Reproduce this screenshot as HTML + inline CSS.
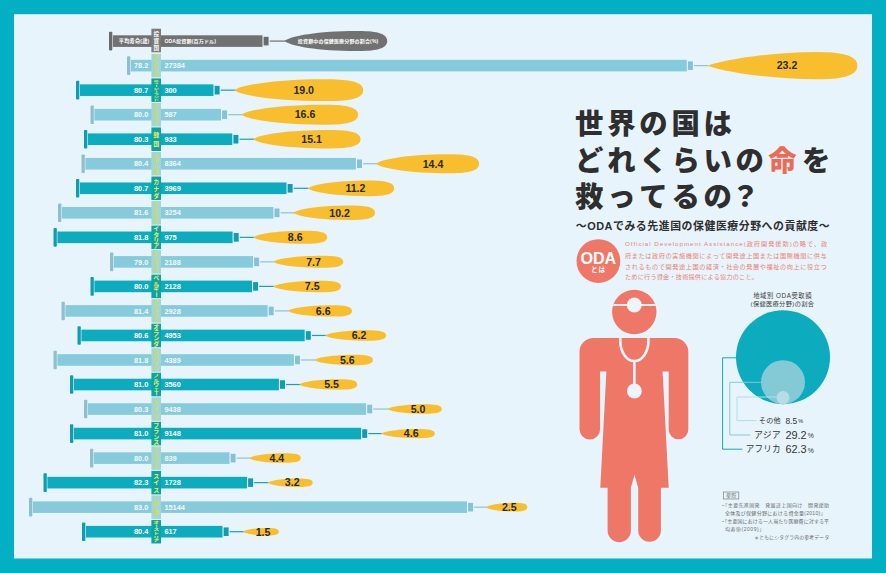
<!DOCTYPE html><html><head><meta charset="utf-8"><title>ODA</title><style>html,body{margin:0;padding:0;background:#03b0c3}svg{display:block}</style></head><body><svg width="886" height="573" viewBox="0 0 886 573"><style>text{font-family:"Liberation Sans","Noto Sans CJK JP",sans-serif}.n{font-size:7.4px;font-weight:bold;fill:#fff}.p{font-size:10.6px;font-weight:bold;fill:#2a2a2a}.c{font-size:5.9px;font-weight:bold;text-anchor:middle}.h{font-size:5.6px;font-weight:bold;text-anchor:middle}.t{font-size:28.4px;font-weight:900}.d{font-size:6.2px}.r{font-size:5px}</style><rect width="886" height="573" fill="#03b0c3"/><rect x="14" y="14.2" width="858" height="544.3" fill="#e7f4fc"/><rect x="109" y="31.8" width="3.3" height="18.6" rx="0.8" fill="#6a6a6a"/><rect x="112.9" y="35.3" width="149.6" height="11.6" fill="#717171"/><rect x="263.6" y="36.8" width="5" height="8.6" fill="#6a6a6a"/><rect x="269.7" y="40.5" width="15.7" height="1.2" fill="#6f6f6f"/><path d="M284.6 41.1C289.73 36.1 318.46 31.1 356.42 31.1C373.86 31.1 387.2 32.6 387.2 41.1C387.2 49.6 373.86 51.1 356.42 51.1C318.46 51.1 289.73 46.1 284.6 41.1Z" fill="#717171"/><rect x="151.4" y="28.7" width="9.6" height="23.6" fill="#7b7b7b"/><text x="149.3" y="43.01" text-anchor="end" font-size="5.16" font-weight="bold" fill="#fff" textLength="30.5" lengthAdjust="spacing">平均寿命(歳)</text><text x="164.4" y="42.99" font-size="5.1" font-weight="bold" fill="#fff" textLength="51.6" lengthAdjust="spacing">ODA投資額(百万ドル)</text><text x="338" y="42.95" text-anchor="middle" font-size="5" font-weight="bold" fill="#fff" textLength="80.3" lengthAdjust="spacing">投資額中の保健医療分野の割合(%)</text><g fill="#fff"><text class="h" x="156.2" y="36.38">投</text><text class="h" x="156.2" y="42.98">資</text><text class="h" x="156.2" y="49.58">国</text></g><rect x="127" y="56.33" width="3.3" height="18.6" rx="0.8" fill="#8dbfce"/><rect x="130.9" y="59.83" width="555.9" height="11.6" fill="#86cbdb"/><rect x="687.9" y="61.33" width="5" height="8.6" fill="#85c3d4"/><rect x="694" y="65.03" width="14.5" height="1.2" fill="#8fc3d2"/><path d="M707.7 65.63C722.67 59.9 770.57 51.98 815.48 51.98C839.44 51.98 857.4 54.71 857.4 65.63C857.4 76.55 839.44 79.28 815.48 79.28C770.57 79.28 722.67 71.36 707.7 65.63Z" fill="#f9be2d"/><rect x="151.4" y="53.88" width="9.6" height="23.5" fill="#a6d5d0"/><g fill="#cde04c"><text class="c" transform="translate(156.2 57.3) scale(1 0.959)" y="2.24">ア</text><text class="c" transform="translate(156.2 62.86) scale(1 0.959)" y="2.24">メ</text><text class="c" transform="translate(156.2 68.41) scale(1 0.959)" y="2.24">リ</text><text class="c" transform="translate(156.2 73.95) scale(1 0.959)" y="2.24">カ</text></g><text x="148.3" y="68.28" text-anchor="end" class="n" fill-opacity="0.92">78.2</text><text x="164.4" y="68.28" class="n" fill-opacity="0.92">27384</text><text x="787" y="69.43" text-anchor="middle" class="p">23.2</text><rect x="76" y="80.86" width="3.3" height="18.6" rx="0.8" fill="#109db1"/><rect x="79.9" y="84.36" width="133.6" height="11.6" fill="#0cabbe"/><rect x="214.6" y="85.86" width="5" height="8.6" fill="#109db1"/><rect x="220.7" y="89.56" width="14.6" height="1.2" fill="#1a9fb3"/><path d="M234.5 90.16C240.94 84.71 276.97 79.26 324.59 79.26C346.47 79.26 363.2 80.89 363.2 90.16C363.2 99.42 346.47 101.06 324.59 101.06C276.97 101.06 240.94 95.61 234.5 90.16Z" fill="#f9be2d"/><rect x="151.4" y="78.41" width="9.6" height="23.5" fill="#08a4a6"/><g fill="#f6ec58"><text class="c" transform="translate(156.2 80.45) scale(1 0.481)" y="2.24">ニ</text><text class="c" transform="translate(156.2 83.22) scale(1 0.481)" y="2.24">ュ</text><text class="c" transform="translate(156.2 86) scale(1 0.481) rotate(90)" y="2.24">ー</text><text class="c" transform="translate(156.2 88.77) scale(1 0.481)" y="2.24">ジ</text><text class="c" transform="translate(156.2 91.55) scale(1 0.481) rotate(90)" y="2.24">ー</text><text class="c" transform="translate(156.2 94.32) scale(1 0.481)" y="2.24">ラ</text><text class="c" transform="translate(156.2 97.1) scale(1 0.481)" y="2.24">ン</text><text class="c" transform="translate(156.2 99.87) scale(1 0.481)" y="2.24">ド</text></g><text x="148.3" y="92.81" text-anchor="end" class="n">80.7</text><text x="164.4" y="92.81" class="n">300</text><text x="303.7" y="93.96" text-anchor="middle" class="p">19.0</text><rect x="90.5" y="105.39" width="3.3" height="18.6" rx="0.8" fill="#8dbfce"/><rect x="94.4" y="108.89" width="126.6" height="11.6" fill="#86cbdb"/><rect x="222.1" y="110.39" width="5" height="8.6" fill="#85c3d4"/><rect x="228.2" y="114.09" width="14.3" height="1.2" fill="#8fc3d2"/><path d="M241.7 114.69C247.52 109.69 280.11 104.69 323.18 104.69C342.97 104.69 358.1 106.19 358.1 114.69C358.1 123.19 342.97 124.69 323.18 124.69C280.11 124.69 247.52 119.69 241.7 114.69Z" fill="#f9be2d"/><rect x="151.4" y="102.94" width="9.6" height="23.5" fill="#a6d5d0"/><g fill="#cde04c"><text class="c" transform="translate(156.2 105.44) scale(1 0.641)" y="2.24">ア</text><text class="c" transform="translate(156.2 109.14) scale(1 0.641)" y="2.24">イ</text><text class="c" transform="translate(156.2 112.84) scale(1 0.641)" y="2.24">ル</text><text class="c" transform="translate(156.2 116.54) scale(1 0.641)" y="2.24">ラ</text><text class="c" transform="translate(156.2 120.24) scale(1 0.641)" y="2.24">ン</text><text class="c" transform="translate(156.2 123.94) scale(1 0.641)" y="2.24">ド</text></g><text x="148.3" y="117.34" text-anchor="end" class="n" fill-opacity="0.92">80.0</text><text x="164.4" y="117.34" class="n" fill-opacity="0.92">587</text><text x="305" y="118.49" text-anchor="middle" class="p">16.6</text><rect x="84" y="129.92" width="3.3" height="18.6" rx="0.8" fill="#109db1"/><rect x="87.9" y="133.42" width="144.4" height="11.6" fill="#0cabbe"/><rect x="233.4" y="134.92" width="5" height="8.6" fill="#109db1"/><rect x="239.5" y="138.62" width="14.7" height="1.2" fill="#1a9fb3"/><path d="M253.4 139.22C258.75 134.62 288.74 130.02 328.37 130.02C346.58 130.02 360.5 131.4 360.5 139.22C360.5 147.04 346.58 148.42 328.37 148.42C288.74 148.42 258.75 143.82 253.4 139.22Z" fill="#f9be2d"/><rect x="151.4" y="127.47" width="9.6" height="23.5" fill="#08a4a6"/><g fill="#f6ec58"><text class="c" transform="translate(156.2 134.57)" y="2.24">韓</text><text class="c" transform="translate(156.2 143.87)" y="2.24">国</text></g><text x="148.3" y="141.87" text-anchor="end" class="n">80.3</text><text x="164.4" y="141.87" class="n">933</text><text x="311.6" y="143.02" text-anchor="middle" class="p">15.1</text><rect x="81.5" y="154.45" width="3.3" height="18.6" rx="0.8" fill="#8dbfce"/><rect x="85.4" y="157.95" width="270.5" height="11.6" fill="#86cbdb"/><rect x="357" y="159.45" width="5" height="8.6" fill="#85c3d4"/><rect x="363.1" y="163.15" width="13.8" height="1.2" fill="#8fc3d2"/><path d="M376.1 163.75C381.25 159 410.09 154.25 448.2 154.25C465.71 154.25 479.1 155.68 479.1 163.75C479.1 171.82 465.71 173.25 448.2 173.25C410.09 173.25 381.25 168.5 376.1 163.75Z" fill="#f9be2d"/><rect x="151.4" y="152" width="9.6" height="23.5" fill="#a6d5d0"/><g fill="#cde04c"><text class="c" transform="translate(156.2 155.43) scale(1 0.959)" y="2.24">イ</text><text class="c" transform="translate(156.2 160.97) scale(1 0.959)" y="2.24">ギ</text><text class="c" transform="translate(156.2 166.53) scale(1 0.959)" y="2.24">リ</text><text class="c" transform="translate(156.2 172.07) scale(1 0.959)" y="2.24">ス</text></g><text x="148.3" y="166.4" text-anchor="end" class="n" fill-opacity="0.92">80.4</text><text x="164.4" y="166.4" class="n" fill-opacity="0.92">8364</text><text x="433" y="167.55" text-anchor="middle" class="p">14.4</text><rect x="76" y="178.98" width="3.3" height="18.6" rx="0.8" fill="#109db1"/><rect x="79.9" y="182.48" width="206.6" height="11.6" fill="#0cabbe"/><rect x="287.6" y="183.98" width="5" height="8.6" fill="#109db1"/><rect x="293.7" y="187.68" width="14.9" height="1.2" fill="#1a9fb3"/><path d="M307.8 188.28C312.12 184.33 336.31 180.38 368.28 180.38C382.97 180.38 394.2 181.56 394.2 188.28C394.2 195 382.97 196.18 368.28 196.18C336.31 196.18 312.12 192.23 307.8 188.28Z" fill="#f9be2d"/><rect x="151.4" y="176.53" width="9.6" height="23.5" fill="#08a4a6"/><g fill="#f6ec58"><text class="c" transform="translate(156.2 181.28)" y="2.24">カ</text><text class="c" transform="translate(156.2 188.28)" y="2.24">ナ</text><text class="c" transform="translate(156.2 195.28)" y="2.24">ダ</text></g><text x="148.3" y="190.93" text-anchor="end" class="n">80.7</text><text x="164.4" y="190.93" class="n">3969</text><text x="355.4" y="192.08" text-anchor="middle" class="p">11.2</text><rect x="58" y="203.51" width="3.3" height="18.6" rx="0.8" fill="#8dbfce"/><rect x="61.9" y="207.01" width="211.5" height="11.6" fill="#86cbdb"/><rect x="274.5" y="208.51" width="5" height="8.6" fill="#85c3d4"/><rect x="280.6" y="212.21" width="13.4" height="1.2" fill="#8fc3d2"/><path d="M293.2 212.81C297.29 209.19 320.19 205.56 350.46 205.56C364.37 205.56 375 206.65 375 212.81C375 218.97 364.37 220.06 350.46 220.06C320.19 220.06 297.29 216.44 293.2 212.81Z" fill="#f9be2d"/><rect x="151.4" y="201.06" width="9.6" height="23.5" fill="#a6d5d0"/><g fill="#cde04c"><text class="c" transform="translate(156.2 203.3) scale(1 0.549)" y="2.24">オ</text><text class="c" transform="translate(156.2 206.47) scale(1 0.549) rotate(90)" y="2.24">ー</text><text class="c" transform="translate(156.2 209.64) scale(1 0.549)" y="2.24">ス</text><text class="c" transform="translate(156.2 212.81) scale(1 0.549)" y="2.24">ト</text><text class="c" transform="translate(156.2 215.98) scale(1 0.549)" y="2.24">ラ</text><text class="c" transform="translate(156.2 219.15) scale(1 0.549)" y="2.24">リ</text><text class="c" transform="translate(156.2 222.32) scale(1 0.549)" y="2.24">ア</text></g><text x="148.3" y="215.46" text-anchor="end" class="n" fill-opacity="0.92">81.6</text><text x="164.4" y="215.46" class="n" fill-opacity="0.92">3254</text><text x="339.6" y="216.61" text-anchor="middle" class="p">10.2</text><rect x="53.5" y="228.04" width="3.3" height="18.6" rx="0.8" fill="#109db1"/><rect x="57.4" y="231.54" width="175.2" height="11.6" fill="#0cabbe"/><rect x="233.7" y="233.04" width="5" height="8.6" fill="#109db1"/><rect x="239.8" y="236.74" width="14.4" height="1.2" fill="#1a9fb3"/><path d="M253.4 237.34C257.1 234.09 277.79 230.84 305.13 230.84C317.69 230.84 327.3 231.81 327.3 237.34C327.3 242.87 317.69 243.84 305.13 243.84C277.79 243.84 257.1 240.59 253.4 237.34Z" fill="#f9be2d"/><rect x="151.4" y="225.59" width="9.6" height="23.5" fill="#08a4a6"/><g fill="#f6ec58"><text class="c" transform="translate(156.2 229.02) scale(1 0.959)" y="2.24">イ</text><text class="c" transform="translate(156.2 234.56) scale(1 0.959)" y="2.24">タ</text><text class="c" transform="translate(156.2 240.12) scale(1 0.959)" y="2.24">リ</text><text class="c" transform="translate(156.2 245.66) scale(1 0.959)" y="2.24">ア</text></g><text x="148.3" y="239.99" text-anchor="end" class="n">81.8</text><text x="164.4" y="239.99" class="n">975</text><text x="295.2" y="241.14" text-anchor="middle" class="p">8.6</text><rect x="110" y="252.57" width="3.3" height="18.6" rx="0.8" fill="#8dbfce"/><rect x="113.9" y="256.07" width="139.1" height="11.6" fill="#86cbdb"/><rect x="254.1" y="257.57" width="5" height="8.6" fill="#85c3d4"/><rect x="260.2" y="261.27" width="13.7" height="1.2" fill="#8fc3d2"/><path d="M273.1 261.87C276.61 258.87 296.27 255.87 322.24 255.87C334.17 255.87 343.3 256.77 343.3 261.87C343.3 266.97 334.17 267.87 322.24 267.87C296.27 267.87 276.61 264.87 273.1 261.87Z" fill="#f9be2d"/><rect x="151.4" y="250.12" width="9.6" height="23.5" fill="#a6d5d0"/><g fill="#cde04c"><text class="c" transform="translate(156.2 252.99) scale(1 0.769)" y="2.24">デ</text><text class="c" transform="translate(156.2 257.43) scale(1 0.769)" y="2.24">ン</text><text class="c" transform="translate(156.2 261.87) scale(1 0.769)" y="2.24">マ</text><text class="c" transform="translate(156.2 266.31) scale(1 0.769) rotate(90)" y="2.24">ー</text><text class="c" transform="translate(156.2 270.75) scale(1 0.769)" y="2.24">ク</text></g><text x="148.3" y="264.52" text-anchor="end" class="n" fill-opacity="0.92">79.0</text><text x="164.4" y="264.52" class="n" fill-opacity="0.92">2188</text><text x="313.5" y="265.67" text-anchor="middle" class="p">7.7</text><rect x="90.5" y="277.1" width="3.3" height="18.6" rx="0.8" fill="#109db1"/><rect x="94.4" y="280.6" width="157.6" height="11.6" fill="#0cabbe"/><rect x="253.1" y="282.1" width="5" height="8.6" fill="#109db1"/><rect x="259.2" y="285.8" width="14.7" height="1.2" fill="#1a9fb3"/><path d="M273.1 286.4C276.5 283.53 295.51 280.65 320.63 280.65C332.17 280.65 341 281.51 341 286.4C341 291.29 332.17 292.15 320.63 292.15C295.51 292.15 276.5 289.28 273.1 286.4Z" fill="#f9be2d"/><rect x="151.4" y="274.65" width="9.6" height="23.5" fill="#08a4a6"/><g fill="#f6ec58"><text class="c" transform="translate(156.2 278.08) scale(1 0.959)" y="2.24">ベ</text><text class="c" transform="translate(156.2 283.62) scale(1 0.959)" y="2.24">ル</text><text class="c" transform="translate(156.2 289.18) scale(1 0.959)" y="2.24">ギ</text><text class="c" transform="translate(156.2 294.73) scale(1 0.959) rotate(90)" y="2.24">ー</text></g><text x="148.3" y="289.05" text-anchor="end" class="n">80.0</text><text x="164.4" y="289.05" class="n">2128</text><text x="312.2" y="290.2" text-anchor="middle" class="p">7.5</text><rect x="61.5" y="301.63" width="3.3" height="18.6" rx="0.8" fill="#8dbfce"/><rect x="65.4" y="305.13" width="202.2" height="11.6" fill="#86cbdb"/><rect x="268.7" y="306.63" width="5" height="8.6" fill="#85c3d4"/><rect x="274.8" y="310.33" width="14.1" height="1.2" fill="#8fc3d2"/><path d="M288.1 310.93C291.3 308.11 309.19 305.28 332.83 305.28C343.69 305.28 352 306.13 352 310.93C352 315.73 343.69 316.58 332.83 316.58C309.19 316.58 291.3 313.76 288.1 310.93Z" fill="#f9be2d"/><rect x="151.4" y="299.18" width="9.6" height="23.5" fill="#a6d5d0"/><g fill="#cde04c"><text class="c" transform="translate(156.2 301.68) scale(1 0.641)" y="2.24">ス</text><text class="c" transform="translate(156.2 305.38) scale(1 0.641)" y="2.24">ウ</text><text class="c" transform="translate(156.2 309.08) scale(1 0.641)" y="2.24">ェ</text><text class="c" transform="translate(156.2 312.78) scale(1 0.641) rotate(90)" y="2.24">ー</text><text class="c" transform="translate(156.2 316.48) scale(1 0.641)" y="2.24">デ</text><text class="c" transform="translate(156.2 320.18) scale(1 0.641)" y="2.24">ン</text></g><text x="148.3" y="313.58" text-anchor="end" class="n" fill-opacity="0.92">81.4</text><text x="164.4" y="313.58" class="n" fill-opacity="0.92">2928</text><text x="323.2" y="314.73" text-anchor="middle" class="p">6.6</text><rect x="77.5" y="326.16" width="3.3" height="18.6" rx="0.8" fill="#109db1"/><rect x="81.4" y="329.66" width="223.3" height="11.6" fill="#0cabbe"/><rect x="305.8" y="331.16" width="5" height="8.6" fill="#109db1"/><rect x="311.9" y="334.86" width="14.1" height="1.2" fill="#1a9fb3"/><path d="M325.2 335.46C328.25 332.84 345.3 330.21 367.83 330.21C378.18 330.21 386.1 331 386.1 335.46C386.1 339.92 378.18 340.71 367.83 340.71C345.3 340.71 328.25 338.09 325.2 335.46Z" fill="#f9be2d"/><rect x="151.4" y="323.71" width="9.6" height="23.5" fill="#08a4a6"/><g fill="#f6ec58"><text class="c" transform="translate(156.2 327.13) scale(1 0.959)" y="2.24">オ</text><text class="c" transform="translate(156.2 332.69) scale(1 0.959)" y="2.24">ラ</text><text class="c" transform="translate(156.2 338.24) scale(1 0.959)" y="2.24">ン</text><text class="c" transform="translate(156.2 343.79) scale(1 0.959)" y="2.24">ダ</text></g><text x="148.3" y="338.11" text-anchor="end" class="n">80.6</text><text x="164.4" y="338.11" class="n">4953</text><text x="359" y="339.26" text-anchor="middle" class="p">6.2</text><rect x="53.5" y="350.69" width="3.3" height="18.6" rx="0.8" fill="#8dbfce"/><rect x="57.4" y="354.19" width="236.5" height="11.6" fill="#86cbdb"/><rect x="295" y="355.69" width="5" height="8.6" fill="#85c3d4"/><rect x="301.1" y="359.39" width="14.2" height="1.2" fill="#8fc3d2"/><path d="M314.5 359.99C317.42 357.37 333.77 354.74 355.38 354.74C365.31 354.74 372.9 355.53 372.9 359.99C372.9 364.45 365.31 365.24 355.38 365.24C333.77 365.24 317.42 362.62 314.5 359.99Z" fill="#f9be2d"/><rect x="151.4" y="348.24" width="9.6" height="23.5" fill="#a6d5d0"/><g fill="#cde04c"><text class="c" transform="translate(156.2 351.66) scale(1 0.959)" y="2.24">ス</text><text class="c" transform="translate(156.2 357.22) scale(1 0.959)" y="2.24">ペ</text><text class="c" transform="translate(156.2 362.76) scale(1 0.959)" y="2.24">イ</text><text class="c" transform="translate(156.2 368.32) scale(1 0.959)" y="2.24">ン</text></g><text x="148.3" y="362.64" text-anchor="end" class="n" fill-opacity="0.92">81.8</text><text x="164.4" y="362.64" class="n" fill-opacity="0.92">4389</text><text x="347.3" y="363.79" text-anchor="middle" class="p">5.6</text><rect x="70" y="375.22" width="3.3" height="18.6" rx="0.8" fill="#109db1"/><rect x="73.9" y="378.72" width="205" height="11.6" fill="#0cabbe"/><rect x="280" y="380.22" width="5" height="8.6" fill="#109db1"/><rect x="286.1" y="383.92" width="14.1" height="1.2" fill="#1a9fb3"/><path d="M299.4 384.52C302.29 381.95 318.51 379.37 339.93 379.37C349.77 379.37 357.3 380.14 357.3 384.52C357.3 388.9 349.77 389.67 339.93 389.67C318.51 389.67 302.29 387.1 299.4 384.52Z" fill="#f9be2d"/><rect x="151.4" y="372.77" width="9.6" height="23.5" fill="#08a4a6"/><g fill="#f6ec58"><text class="c" transform="translate(156.2 375.64) scale(1 0.769)" y="2.24">ノ</text><text class="c" transform="translate(156.2 380.08) scale(1 0.769)" y="2.24">ル</text><text class="c" transform="translate(156.2 384.52) scale(1 0.769)" y="2.24">ウ</text><text class="c" transform="translate(156.2 388.96) scale(1 0.769)" y="2.24">ェ</text><text class="c" transform="translate(156.2 393.4) scale(1 0.769) rotate(90)" y="2.24">ー</text></g><text x="148.3" y="387.17" text-anchor="end" class="n">81.0</text><text x="164.4" y="387.17" class="n">3560</text><text x="331.5" y="388.32" text-anchor="middle" class="p">5.5</text><rect x="84" y="399.75" width="3.3" height="18.6" rx="0.8" fill="#8dbfce"/><rect x="87.9" y="403.25" width="278.2" height="11.6" fill="#86cbdb"/><rect x="367.2" y="404.75" width="5" height="8.6" fill="#85c3d4"/><rect x="373.3" y="408.45" width="14.9" height="1.2" fill="#8fc3d2"/><path d="M387.4 409.05C390.12 406.68 405.35 404.3 425.48 404.3C434.73 404.3 441.8 405.01 441.8 409.05C441.8 413.09 434.73 413.8 425.48 413.8C405.35 413.8 390.12 411.43 387.4 409.05Z" fill="#f9be2d"/><rect x="151.4" y="397.3" width="9.6" height="23.5" fill="#a6d5d0"/><g fill="#cde04c"><text class="c" transform="translate(156.2 402.05)" y="2.24">ド</text><text class="c" transform="translate(156.2 409.05)" y="2.24">イ</text><text class="c" transform="translate(156.2 416.05)" y="2.24">ツ</text></g><text x="148.3" y="411.7" text-anchor="end" class="n" fill-opacity="0.92">80.3</text><text x="164.4" y="411.7" class="n" fill-opacity="0.92">9438</text><text x="418" y="412.85" text-anchor="middle" class="p">5.0</text><rect x="70" y="424.28" width="3.3" height="18.6" rx="0.8" fill="#109db1"/><rect x="73.9" y="427.78" width="287.2" height="11.6" fill="#0cabbe"/><rect x="362.2" y="429.28" width="5" height="8.6" fill="#109db1"/><rect x="368.3" y="432.98" width="13.6" height="1.2" fill="#1a9fb3"/><path d="M381.1 433.58C383.79 431.26 398.82 428.93 418.69 428.93C427.82 428.93 434.8 429.63 434.8 433.58C434.8 437.53 427.82 438.23 418.69 438.23C398.82 438.23 383.79 435.91 381.1 433.58Z" fill="#f9be2d"/><rect x="151.4" y="421.83" width="9.6" height="23.5" fill="#08a4a6"/><g fill="#f6ec58"><text class="c" transform="translate(156.2 425.25) scale(1 0.959)" y="2.24">フ</text><text class="c" transform="translate(156.2 430.81) scale(1 0.959)" y="2.24">ラ</text><text class="c" transform="translate(156.2 436.36) scale(1 0.959)" y="2.24">ン</text><text class="c" transform="translate(156.2 441.91) scale(1 0.959)" y="2.24">ス</text></g><text x="148.3" y="436.23" text-anchor="end" class="n">81.0</text><text x="164.4" y="436.23" class="n">9148</text><text x="411.2" y="437.38" text-anchor="middle" class="p">4.6</text><rect x="90" y="448.81" width="3.3" height="18.6" rx="0.8" fill="#8dbfce"/><rect x="93.9" y="452.31" width="135.6" height="11.6" fill="#86cbdb"/><rect x="230.6" y="453.81" width="5" height="8.6" fill="#85c3d4"/><rect x="236.7" y="457.51" width="12.9" height="1.2" fill="#8fc3d2"/><path d="M248.8 458.11C251.41 455.74 265.99 453.36 285.27 453.36C294.13 453.36 300.9 454.07 300.9 458.11C300.9 462.15 294.13 462.86 285.27 462.86C265.99 462.86 251.41 460.49 248.8 458.11Z" fill="#f9be2d"/><rect x="151.4" y="446.36" width="9.6" height="23.5" fill="#a6d5d0"/><g fill="#cde04c"><text class="c" transform="translate(156.2 448.86) scale(1 0.641)" y="2.24">フ</text><text class="c" transform="translate(156.2 452.56) scale(1 0.641)" y="2.24">ィ</text><text class="c" transform="translate(156.2 456.26) scale(1 0.641)" y="2.24">ン</text><text class="c" transform="translate(156.2 459.96) scale(1 0.641)" y="2.24">ラ</text><text class="c" transform="translate(156.2 463.66) scale(1 0.641)" y="2.24">ン</text><text class="c" transform="translate(156.2 467.36) scale(1 0.641)" y="2.24">ド</text></g><text x="148.3" y="460.76" text-anchor="end" class="n" fill-opacity="0.92">80.0</text><text x="164.4" y="460.76" class="n" fill-opacity="0.92">839</text><text x="276.9" y="461.91" text-anchor="middle" class="p">4.4</text><rect x="43.5" y="473.34" width="3.3" height="18.6" rx="0.8" fill="#109db1"/><rect x="47.4" y="476.84" width="199.6" height="11.6" fill="#0cabbe"/><rect x="248.1" y="478.34" width="5" height="8.6" fill="#109db1"/><rect x="254.2" y="482.04" width="14.2" height="1.2" fill="#1a9fb3"/><path d="M267.6 482.64C269.86 480.52 282.48 478.39 299.17 478.39C306.84 478.39 312.7 479.03 312.7 482.64C312.7 486.25 306.84 486.89 299.17 486.89C282.48 486.89 269.86 484.77 267.6 482.64Z" fill="#f9be2d"/><rect x="151.4" y="470.89" width="9.6" height="23.5" fill="#08a4a6"/><g fill="#f6ec58"><text class="c" transform="translate(156.2 475.64)" y="2.24">ス</text><text class="c" transform="translate(156.2 482.64)" y="2.24">イ</text><text class="c" transform="translate(156.2 489.64)" y="2.24">ス</text></g><text x="148.3" y="485.29" text-anchor="end" class="n">82.3</text><text x="164.4" y="485.29" class="n">1728</text><text x="292.2" y="486.44" text-anchor="middle" class="p">3.2</text><rect x="29" y="497.87" width="3.3" height="18.6" rx="0.8" fill="#8dbfce"/><rect x="32.9" y="501.37" width="434.1" height="11.6" fill="#86cbdb"/><rect x="468.1" y="502.87" width="5" height="8.6" fill="#85c3d4"/><rect x="474.2" y="506.57" width="12.6" height="1.2" fill="#8fc3d2"/><path d="M486 507.17C488.06 505 499.6 502.82 514.84 502.82C521.84 502.82 527.2 503.47 527.2 507.17C527.2 510.87 521.84 511.52 514.84 511.52C499.6 511.52 488.06 509.35 486 507.17Z" fill="#f9be2d"/><rect x="151.4" y="495.42" width="9.6" height="23.5" fill="#a6d5d0"/><g fill="#cde04c"><text class="c" transform="translate(156.2 502.52)" y="2.24">日</text><text class="c" transform="translate(156.2 511.82)" y="2.24">本</text></g><text x="148.3" y="509.82" text-anchor="end" class="n" fill-opacity="0.92">83.0</text><text x="164.4" y="509.82" class="n" fill-opacity="0.92">15144</text><text x="509.3" y="510.97" text-anchor="middle" class="p">2.5</text><rect x="82" y="522.4" width="3.3" height="18.6" rx="0.8" fill="#109db1"/><rect x="85.9" y="525.9" width="136.6" height="11.6" fill="#0cabbe"/><rect x="223.6" y="527.4" width="5" height="8.6" fill="#109db1"/><rect x="229.7" y="531.1" width="14.1" height="1.2" fill="#1a9fb3"/><path d="M243 531.7C244.79 529.83 254.85 527.95 268.13 527.95C274.23 527.95 278.9 528.51 278.9 531.7C278.9 534.89 274.23 535.45 268.13 535.45C254.85 535.45 244.79 533.58 243 531.7Z" fill="#f9be2d"/><rect x="151.4" y="519.95" width="9.6" height="23.5" fill="#08a4a6"/><g fill="#f6ec58"><text class="c" transform="translate(156.2 522.45) scale(1 0.641)" y="2.24">オ</text><text class="c" transform="translate(156.2 526.15) scale(1 0.641) rotate(90)" y="2.24">ー</text><text class="c" transform="translate(156.2 529.85) scale(1 0.641)" y="2.24">ス</text><text class="c" transform="translate(156.2 533.55) scale(1 0.641)" y="2.24">ト</text><text class="c" transform="translate(156.2 537.25) scale(1 0.641)" y="2.24">リ</text><text class="c" transform="translate(156.2 540.95) scale(1 0.641)" y="2.24">ア</text></g><text x="148.3" y="534.35" text-anchor="end" class="n">80.4</text><text x="164.4" y="534.35" class="n">617</text><text x="263.1" y="535.5" text-anchor="middle" class="p">1.5</text><text class="t" fill="#2e2e2e" x="575.1 607.2 639.3 671.4 703.5" y="133.71">世界の国は</text><text class="t" fill="#2e2e2e" x="575.1 607.2 639.3 671.4 703.5 735.6" y="170.51">どれくらいの</text><text class="t" fill="#ec6b57" x="768.3" y="170.51">命</text><text class="t" fill="#2e2e2e" x="802" y="170.51">を</text><text class="t" fill="#2e2e2e" x="575.1 607.2 639.3 671.4 703.5" y="206.91">救ってるの</text><text class="t" fill="#2e2e2e" x="731" y="206.91">？</text><text x="575.7" y="229.93" font-size="10.9" font-weight="bold" fill="#2e2e2e" textLength="254" lengthAdjust="spacing">～ODAでみる先進国の保健医療分野への貢献度～</text><circle cx="598.4" cy="261.1" r="21.9" fill="#ee7768"/><text x="580.5" y="263.5" font-size="16.2" font-weight="bold" fill="#fff" style="letter-spacing:-0.2px">ODA</text><text x="598.6" y="271.88" text-anchor="middle" font-size="6.7" font-weight="bold" fill="#fff" style="letter-spacing:0.8px">とは</text><text class="d" fill="#ec8273" x="625" y="246.39" textLength="202.3" lengthAdjust="spacing">Official Development Assistance(政府開発援助)の略で、政</text><text class="d" fill="#ec8273" x="625" y="257.79" textLength="201.7" lengthAdjust="spacing">府または政府の実施機関によって開発途上国または国際機関に供与</text><text class="d" fill="#ec8273" x="625" y="268.59" textLength="201.7" lengthAdjust="spacing">されるもので開発途上国の経済・社会の発展や福祉の向上に役立つ</text><text class="d" fill="#ec8273" x="625" y="279.09" textLength="133" lengthAdjust="spacing">ために行う資金・技術提供による協力のこと。</text><circle cx="634.3" cy="312" r="22.2" fill="#ee7768"/><clipPath id="hc"><circle cx="634.3" cy="312" r="22.2"/></clipPath><rect x="610" y="304" width="48" height="1.9" fill="#eef5fa" clip-path="url(#hc)"/><circle cx="634.3" cy="305" r="7.5" fill="#edf5fa"/><path d="M593.5 338 H674.3 A14 14 0 0 1 688.3 352 V429.6 A9.8 9.8 0 0 1 668.7 429.6 V371.6 H662.6 L668.7 487.7 H660.9 V530.5 A11.35 11.35 0 0 1 638.2 530.5 V487.7 L634.5 474.7 L630.9 487.7 V530.5 A11.65 11.65 0 0 1 607.6 530.5 V487.7 H600.3 L606.4 371.6 H600.1 V429.3 A10.3 10.3 0 0 1 579.5 429.3 V352 A14 14 0 0 1 593.5 338 Z" fill="#ee7768"/><path d="M620.3 337 V341 A14.05 20 0 0 0 648.4 341 V337 M634.35 361 V386" fill="none" stroke="#eef5fa" stroke-width="2.6"/><circle cx="634.4" cy="391" r="7.4" fill="#eef5fa"/><circle cx="783" cy="357.2" r="47" fill="#0cabbe"/><circle cx="783" cy="382.2" r="22" fill="#84c9d6"/><circle cx="783" cy="397.6" r="6.5" fill="#b5dde6"/><path d="M736.2 357.8 H722.6 V449.2 H742.4" fill="none" stroke="#0cabbe" stroke-width="1"/><path d="M761.2 382.3 H729.8 V435 H750.2" fill="none" stroke="#84c9d6" stroke-width="1"/><path d="M776.6 397 H737 V420.6 H756.5" fill="none" stroke="#b5dde6" stroke-width="1"/><text x="782.3" y="297.73" text-anchor="middle" font-size="6.3" fill="#3a3a3a" textLength="58.3" lengthAdjust="spacing">地域別 ODA受取額</text><text x="782.2" y="305.69" text-anchor="middle" font-size="6.2" fill="#3a3a3a" textLength="63.5" lengthAdjust="spacing">(保健医療分野)の割合</text><text x="780.8" y="423.23" text-anchor="end" font-size="7.1" fill="#333" style="letter-spacing:0.2px">その他</text><text x="785.4" y="423.52" font-size="8.4" fill="#333">8.5</text><text x="798.17" y="423.31" font-size="5.5" fill="#333">%</text><text x="780.9" y="438.29" text-anchor="end" font-size="8.9" fill="#333" style="letter-spacing:0.2px">アジア</text><text x="785.4" y="438.81" font-size="10.9" fill="#333">29.2</text><text x="807.66" y="438.4" font-size="6.8" fill="#333">%</text><text x="780.9" y="452.38" text-anchor="end" font-size="8.6" fill="#333" style="letter-spacing:0.2px">アフリカ</text><text x="785.4" y="453.01" font-size="10.9" fill="#333">62.3</text><text x="807.66" y="452.6" font-size="6.8" fill="#333">%</text><rect x="723.4" y="492" width="15.4" height="7" fill="none" stroke="#6c6c6c" stroke-width="0.6"/><text class="r" x="731.2" y="497.45" text-anchor="middle" fill="#6c6c6c" style="letter-spacing:0.3px">参照</text><text class="r" x="720.45" y="507.05" fill="#6c6c6c">・</text><text class="r" x="722.45" y="507.05" fill="#6c6c6c" textLength="106.65" lengthAdjust="spacing">「主要先進国発　発展途上国向け　開発援助</text><text class="r" x="724.9" y="515.05" fill="#6c6c6c" textLength="100.5" lengthAdjust="spacing">全体及び保健分野における資金量(2010)」</text><text class="r" x="720.45" y="523.25" fill="#6c6c6c">・</text><text class="r" x="722.2" y="523.25" fill="#6c6c6c" textLength="106.9" lengthAdjust="spacing">「主要国における一人当たり医療費に対する平</text><text class="r" x="724.9" y="531.35" fill="#6c6c6c" textLength="39.3" lengthAdjust="spacing">均寿命(2009)」</text><text x="829.2" y="539.48" text-anchor="end" font-size="4.8" fill="#6c6c6c" textLength="75" lengthAdjust="spacing">＊ともにシタグラ内の参考データ</text></svg></body></html>
